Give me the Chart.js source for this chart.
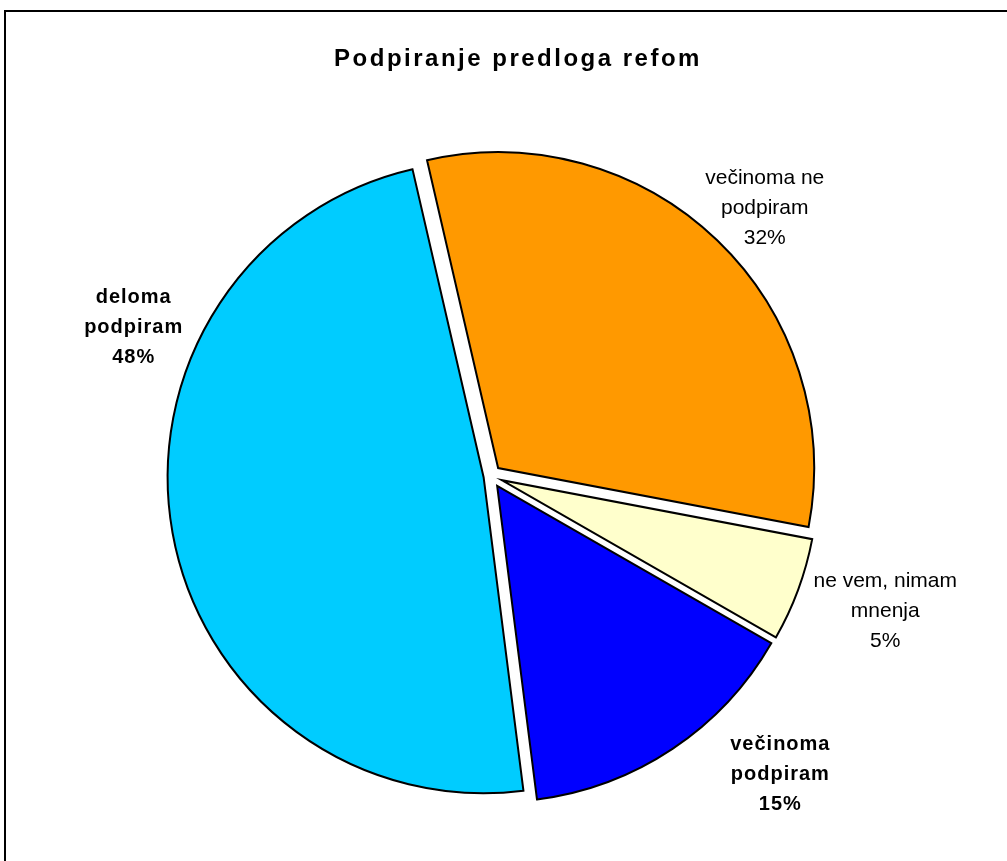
<!DOCTYPE html>
<html><head><meta charset="utf-8">
<script src="https://cdn.jsdelivr.net/npm/chart.js@4.4.1/dist/chart.umd.min.js"></script>
<style>
html,body{margin:0;padding:0;background:#fff;overflow:hidden}
#wrap{position:relative;width:1007px;height:861px;overflow:hidden}
#frame{position:absolute;left:4px;top:10px;width:1100px;height:1000px;border:2px solid #000;box-sizing:border-box}
canvas{position:absolute;left:0;top:0}
</style></head><body>
<div id="wrap"><div id="frame"></div><canvas id="c" width="1007" height="861"></canvas></div>
<script>
// ---- data ----
const titleText = 'Podpiranje predloga refom';
const categories = [['večinoma ne', 'podpiram'], ['ne vem, nimam', 'mnenja'], ['večinoma', 'podpiram'], ['deloma', 'podpiram']];
const values = [31.6, 5.3, 14.7, 48.4];
// ---- styles ----
const colors = ['#FF9900', '#FFFFCC', '#0000FF', '#00CCFF'];
const explode = [11, 12, 12, 7];
const boldLabel = [false, false, true, true];
const labelPlace = [{shift: 1.7, dist: 384}, {shift: -1.5, dist: 417}, {shift: -10.6, dist: 415}, {shift: 32.9, dist: 387}];

const explodePlugin = {
  id: 'explode',
  beforeDatasetDraw(chart, args) {
    const ctx = chart.ctx;
    args.meta.data.forEach((arc, i) => {
      const mid = (arc.startAngle + arc.endAngle) / 2;
      ctx.save();
      ctx.translate(Math.cos(mid) * explode[i], Math.sin(mid) * explode[i]);
      arc.draw(ctx);
      ctx.restore();
    });
    return false;
  }
};

const textPlugin = {
  id: 'texts',
  afterDraw(chart) {
    const ctx = chart.ctx;
    ctx.save();
    ctx.fillStyle = '#000';
    ctx.textAlign = 'center';
    ctx.textBaseline = 'alphabetic';
    ctx.font = 'bold 24px "Liberation Sans", Arial, sans-serif';
    ctx.letterSpacing = '2.5px';
    ctx.fillText(titleText, 518, 66);
    const meta = chart.getDatasetMeta(0);
    const total = values.reduce((a, b) => a + b, 0);
    meta.data.forEach((arc, i) => {
      const mid = (arc.startAngle + arc.endAngle) / 2 + labelPlace[i].shift * Math.PI / 180;
      const cx = arc.x + Math.cos(mid) * labelPlace[i].dist;
      const cy = arc.y + Math.sin(mid) * labelPlace[i].dist;
      const lines = [...categories[i], Math.round(values[i] / total * 100) + '%'];
      if (boldLabel[i]) {
        ctx.font = 'bold 20px "Liberation Sans", Arial, sans-serif';
        ctx.letterSpacing = '1px';
      } else {
        ctx.font = '21px "Liberation Sans", Arial, sans-serif';
        ctx.letterSpacing = '0px';
      }
      lines.forEach((t, k) => ctx.fillText(t, cx, cy + (k - 1) * 30 + 7));
    });
    ctx.restore();
  }
};

new Chart(document.getElementById('c'), {
  type: 'pie',
  data: {
    labels: categories.map(l => l.join(' ')),
    datasets: [{
      data: values,
      backgroundColor: colors,
      borderColor: '#000',
      borderWidth: 2,
      borderJoinStyle: 'miter',
      offset: 0,
      hoverOffset: 0
    }]
  },
  options: {
    responsive: false,
    animation: false,
    events: [],
    rotation: -13,
    radius: 316,
    layout: {padding: {top: 91, right: 26, left: 0, bottom: 0}},
    plugins: {legend: {display: false}, tooltip: {enabled: false}, title: {display: false}}
  },
  plugins: [explodePlugin, textPlugin]
});
</script>
</body></html>
